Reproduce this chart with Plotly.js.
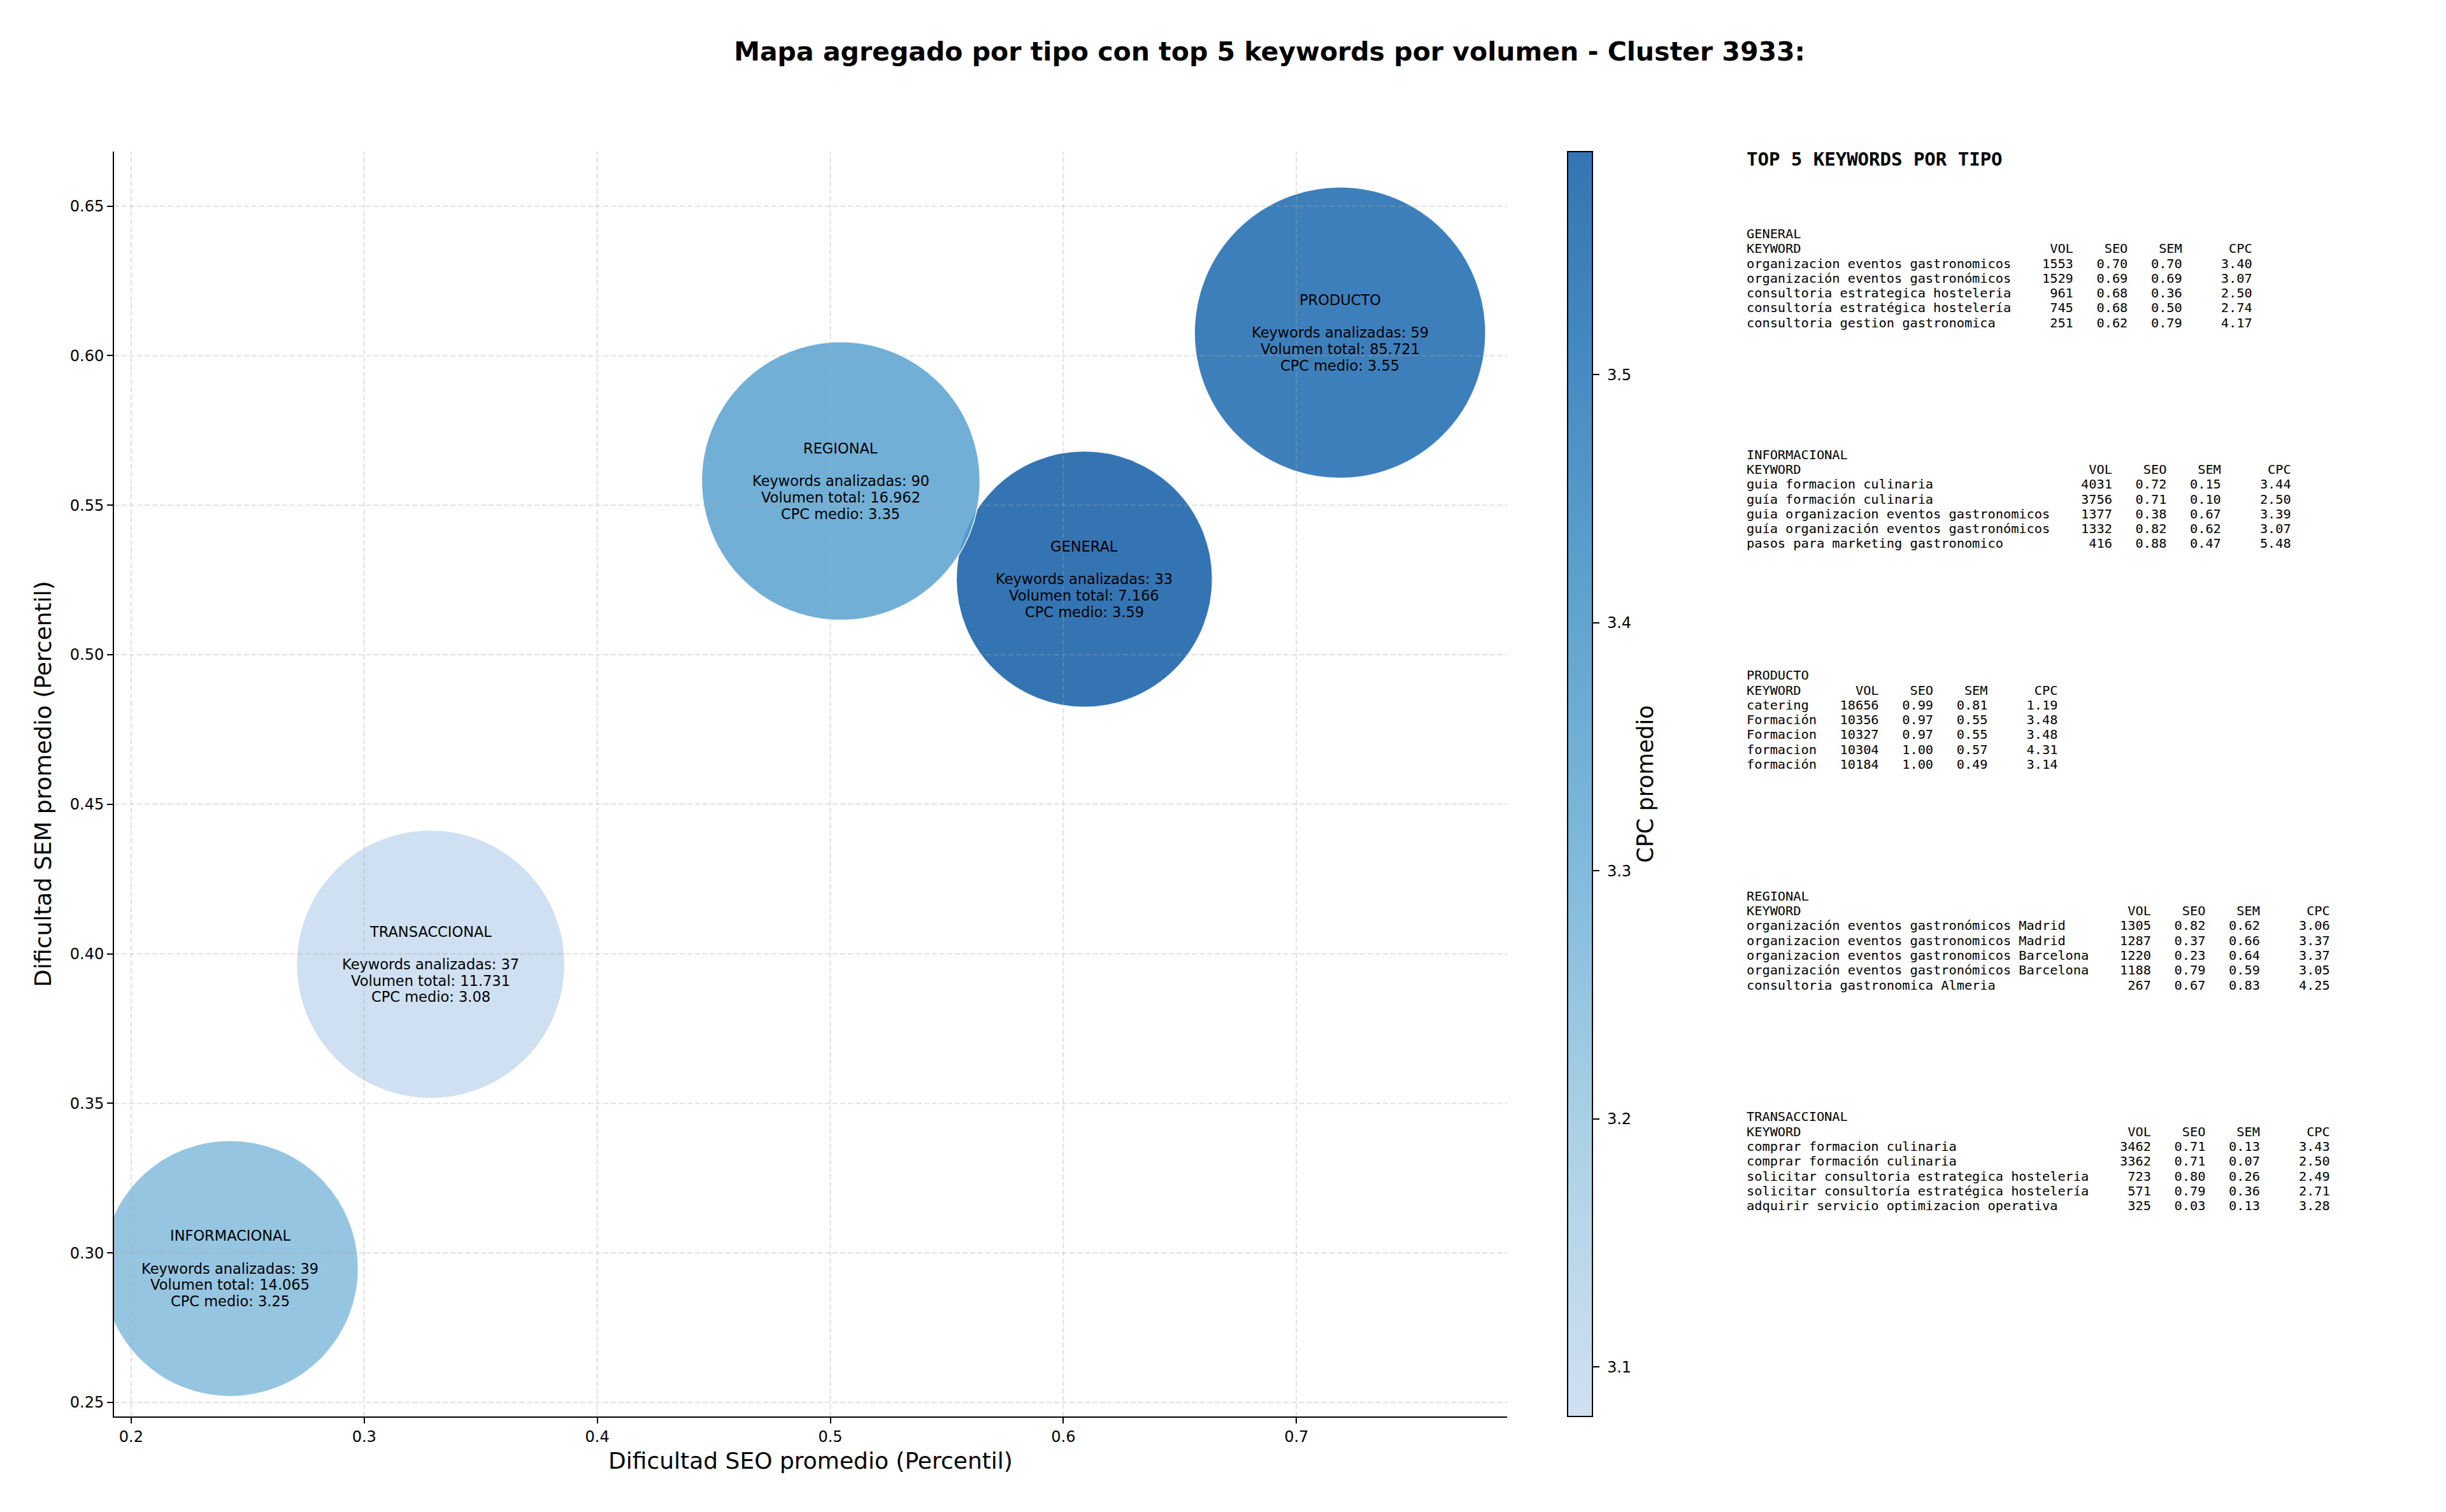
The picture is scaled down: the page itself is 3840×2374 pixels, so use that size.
<!DOCTYPE html>
<html>
<head>
<meta charset="utf-8">
<script src="https://cdn.plot.ly/plotly-3.0.1.min.js"></script>
<style>html,body{margin:0;padding:0;background:#fff;}#chart{width:3840px;height:2374px;}</style>
</head>
<body>
<div id="chart"></div>
<script>
// ---------------- DATA ----------------
const tipos = ['GENERAL', 'INFORMACIONAL', 'PRODUCTO', 'REGIONAL', 'TRANSACCIONAL'];
const seoPromedio = [0.609, 0.2425, 0.7187, 0.5045, 0.3285];
const semPromedio = [0.5253, 0.2948, 0.6077, 0.5581, 0.3965];
const keywordsAnalizadas = [33, 39, 59, 90, 37];
const volumenTotal = [7166, 14065, 85721, 16962, 11731];
const cpcMedio = [3.59, 3.25, 3.55, 3.35, 3.08];

const xTicks = [0.2, 0.3, 0.4, 0.5, 0.6, 0.7];
const yTicks = [0.25, 0.30, 0.35, 0.40, 0.45, 0.50, 0.55, 0.60, 0.65];
const cbTicks = [3.1, 3.2, 3.3, 3.4, 3.5];

// top 5 keywords per tipo: [keyword, vol, seo, sem, cpc]
const topGeneral = [
  ['organizacion eventos gastronomicos', 1553, 0.70, 0.70, 3.40],
  ['organización eventos gastronómicos', 1529, 0.69, 0.69, 3.07],
  ['consultoria estrategica hosteleria', 961, 0.68, 0.36, 2.50],
  ['consultoría estratégica hostelería', 745, 0.68, 0.50, 2.74],
  ['consultoria gestion gastronomica', 251, 0.62, 0.79, 4.17]
];
const topInformacional = [
  ['guia formacion culinaria', 4031, 0.72, 0.15, 3.44],
  ['guía formación culinaria', 3756, 0.71, 0.10, 2.50],
  ['guia organizacion eventos gastronomicos', 1377, 0.38, 0.67, 3.39],
  ['guía organización eventos gastronómicos', 1332, 0.82, 0.62, 3.07],
  ['pasos para marketing gastronomico', 416, 0.88, 0.47, 5.48]
];
const topProducto = [
  ['catering', 18656, 0.99, 0.81, 1.19],
  ['Formación', 10356, 0.97, 0.55, 3.48],
  ['Formacion', 10327, 0.97, 0.55, 3.48],
  ['formacion', 10304, 1.00, 0.57, 4.31],
  ['formación', 10184, 1.00, 0.49, 3.14]
];
const topRegional = [
  ['organización eventos gastronómicos Madrid', 1305, 0.82, 0.62, 3.06],
  ['organizacion eventos gastronomicos Madrid', 1287, 0.37, 0.66, 3.37],
  ['organizacion eventos gastronomicos Barcelona', 1220, 0.23, 0.64, 3.37],
  ['organización eventos gastronómicos Barcelona', 1188, 0.79, 0.59, 3.05],
  ['consultoria gastronomica Almeria', 267, 0.67, 0.83, 4.25]
];
const topTransaccional = [
  ['comprar formacion culinaria', 3462, 0.71, 0.13, 3.43],
  ['comprar formación culinaria', 3362, 0.71, 0.07, 2.50],
  ['solicitar consultoria estrategica hosteleria', 723, 0.80, 0.26, 2.49],
  ['solicitar consultoría estratégica hostelería', 571, 0.79, 0.36, 2.71],
  ['adquirir servicio optimizacion operativa', 325, 0.03, 0.13, 3.28]
];
const topPorTipo = [topGeneral, topInformacional, topProducto, topRegional, topTransaccional];

// ---------------- STYLE / LAYOUT ----------------
const W = 3840, H = 2374;
const M = {l: 179, r: 1474, t: 238, b: 150};
const plotW = W - M.l - M.r, plotH = H - M.t - M.b;
const px2x = px => (px - M.l) / plotW;
const py2y = py => 1 - (py - M.t) / plotH;

const bubbleDiam = [402, 402, 457, 437, 421]; // marker diameters (px)

const colorscale = [
  [0, 'rgba(198,219,239,0.85)'],
  [0.2155, 'rgba(158,202,225,0.85)'],
  [0.431, 'rgba(107,174,214,0.85)'],
  [0.647, 'rgba(66,146,198,0.85)'],
  [0.862, 'rgba(33,113,181,0.85)'],
  [1, 'rgba(17,92,165,0.85)']
];

const fmtMiles = n => String(n).replace(/\B(?=(\d{3})+(?!\d))/g, '.');
const nb = s => s.replace(/ /g, '\u00A0');

const trace = {
  type: 'scatter',
  mode: 'markers',
  x: seoPromedio,
  y: semPromedio,
  text: tipos,
  cliponaxis: true,
  hoverinfo: 'text',
  marker: {
    size: bubbleDiam,
    sizemode: 'diameter',
    opacity: 1,
    color: cpcMedio,
    cmin: Math.min(...cpcMedio),
    cmax: Math.max(...cpcMedio),
    colorscale: colorscale,
    line: {color: 'rgba(255,255,255,0.9)', width: 1.5},
    showscale: true,
    colorbar: {
      thickness: 39, thicknessmode: 'pixels',
      len: 1, lenmode: 'fraction', y: 0.5, yanchor: 'middle',
      x: px2x(2461), xanchor: 'left', xpad: 0, ypad: 0,
      outlinewidth: 2, outlinecolor: '#000',
      ticks: 'outside', ticklen: 10, tickwidth: 2, tickcolor: '#000',
      tickvals: cbTicks, ticktext: cbTicks.map(v => '\u00A0' + v.toFixed(1)),
      tickfont: {family: 'DejaVu Sans', size: 24, color: '#000'},
      title: {text: 'CPC promedio', side: 'right', font: {family: 'DejaVu Sans', size: 35, color: '#000'}}
    }
  }
};

const annotations = [];
// bubble labels
const lineH = 25.7;
tipos.forEach((t, i) => {
  const lines = [
    t, '',
    'Keywords analizadas: ' + keywordsAnalizadas[i],
    'Volumen total: ' + fmtMiles(volumenTotal[i]),
    'CPC medio: ' + cpcMedio[i].toFixed(2)
  ];
  lines.forEach((ln, k) => {
    if (!ln) return;
    annotations.push({
      xref: 'x', yref: 'y', x: seoPromedio[i], y: semPromedio[i],
      text: ln, showarrow: false, xanchor: 'center', yanchor: 'middle',
      yshift: (2 - k) * lineH,
      font: {family: 'DejaVu Sans', size: 22.5, color: '#000'}
    });
  });
});

// right panel text
const panelX = px2x(2740);
annotations.push({
  xref: 'paper', yref: 'paper', x: panelX, y: py2y(250),
  text: '<b>' + nb('TOP 5 KEYWORDS POR TIPO') + '</b>', showarrow: false,
  xanchor: 'left', yanchor: 'middle', align: 'left',
  font: {family: 'DejaVu Sans Mono', size: 29, color: '#000'}
});
const blockTop = 367, blockStep = 346.6, rowStep = 23.3;
topPorTipo.forEach((rows, b) => {
  const L = Math.max(...rows.map(r => r[0].length));
  const lines = [tipos[b],
    'KEYWORD'.padEnd(L) + 'VOL'.padStart(8) + 'SEO'.padStart(7) + 'SEM'.padStart(7) + 'CPC'.padStart(9)];
  rows.forEach(r => {
    lines.push(r[0].padEnd(L) + String(r[1]).padStart(8) + r[2].toFixed(2).padStart(7) +
      r[3].toFixed(2).padStart(7) + r[4].toFixed(2).padStart(9));
  });
  lines.forEach((ln, k) => {
    annotations.push({
      xref: 'paper', yref: 'paper', x: panelX, y: py2y(blockTop + b * blockStep + k * rowStep),
      text: nb(ln), showarrow: false, xanchor: 'left', yanchor: 'middle', align: 'left',
      font: {family: 'DejaVu Sans Mono', size: 20.3, color: '#000'}
    });
  });
});

// dashed grid drawn above bubbles (as in reference)
const gridStyle = {color: 'rgba(170,170,170,0.35)', width: 2, dash: '8px,4px'};
const shapes = [];
xTicks.forEach(v => shapes.push({type: 'line', xref: 'x', yref: 'paper', x0: v, x1: v, y0: 0, y1: 1, layer: 'above', line: gridStyle}));
yTicks.forEach(v => shapes.push({type: 'line', xref: 'paper', yref: 'y', x0: 0, x1: 1, y0: v, y1: v, layer: 'above', line: gridStyle}));

const axisCommon = {
  showgrid: false, zeroline: false, showline: true, linecolor: '#000', linewidth: 2,
  mirror: false, ticks: 'outside', ticklen: 9, tickwidth: 2, tickcolor: '#000',
  tickfont: {family: 'DejaVu Sans', size: 24, color: '#000'}
};

const layout = {
  width: W, height: H,
  margin: M,
  paper_bgcolor: '#fff', plot_bgcolor: '#fff',
  font: {family: 'DejaVu Sans', color: '#000'},
  showlegend: false,
  title: {
    text: '<b>Mapa agregado por tipo con top 5 keywords por volumen - Cluster 3933:</b>',
    font: {family: 'DejaVu Sans', size: 41, color: '#000'},
    xref: 'container', yref: 'container', x: 1993 / W, xanchor: 'center', y: 1 - 81 / H, yanchor: 'middle'
  },
  xaxis: Object.assign({}, axisCommon, {
    range: [0.19265, 0.7904], tickvals: xTicks, ticktext: xTicks.map(v => v.toFixed(1)),
    title: {text: 'Dificultad SEO promedio (Percentil)', font: {family: 'DejaVu Sans', size: 36, color: '#000'}, standoff: 12}
  }),
  yaxis: Object.assign({}, axisCommon, {
    range: [0.24532, 0.66825], tickvals: yTicks, ticktext: yTicks.map(v => v.toFixed(2)),
    title: {text: 'Dificultad SEM promedio (Percentil)', font: {family: 'DejaVu Sans', size: 36, color: '#000'}, standoff: 18}
  }),
  shapes: shapes,
  annotations: annotations
};

Plotly.newPlot('chart', [trace], layout, {staticPlot: true, displayModeBar: false});
</script>
</body>
</html>
